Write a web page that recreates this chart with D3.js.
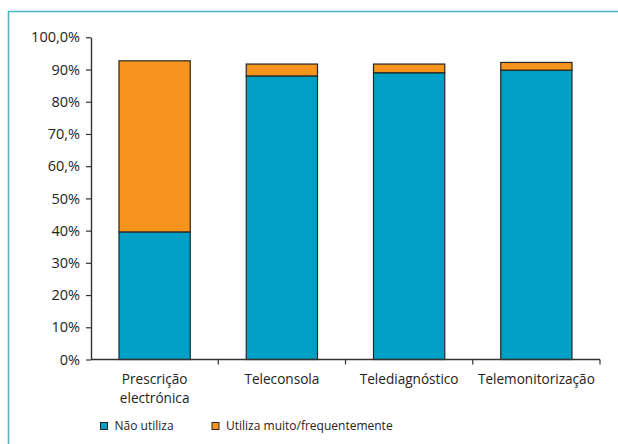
<!DOCTYPE html>
<html>
<head>
<meta charset="utf-8">
<script src="https://cdn.jsdelivr.net/npm/d3@7"></script>
<style>
  html, body { margin: 0; padding: 0; background: #fff; }
  svg { display: block; font-family: "Open Sans", "Noto Sans", sans-serif; }
</style>
</head>
<body>
<svg id="chart" width="618" height="444"></svg>
<script>
// Categories and stacked series (percent)
const categories = [["Prescrição", "electrónica"], ["Teleconsola"], ["Telediagnóstico"], ["Telemonitorização"]];
const naoUtiliza = [39.6, 88.0, 89.0, 89.8];
const utilizaMuito = [53.1, 3.7, 2.7, 2.4];
const seriesNames = ["Não utiliza", "Utiliza muito/frequentemente"];
const seriesColors = ["#00a0c6", "#f7941d"];
const yTickValues = [0, 10, 20, 30, 40, 50, 60, 70, 80, 90, 100];
const yTickLabels = ["0%", "10%", "20%", "30%", "40%", "50%", "60,%", "70,%", "80%", "90%", "100,0%"];

const svg = d3.select("#chart");
const textColor = "#232323";
const axisColor = "#333";

// Frame: top and left teal rule
svg.append("line").attr("x1", 8).attr("x2", 618).attr("y1", 11.5).attr("y2", 11.5)
  .attr("stroke", "#4fb3bf").attr("stroke-width", 1.6);
svg.append("line").attr("x1", 8.5).attr("x2", 8.5).attr("y1", 11).attr("y2", 444)
  .attr("stroke", "#4fb3bf").attr("stroke-width", 1.6);

const x = d3.scaleBand()
  .domain(d3.range(categories.length))
  .range([91, 600])
  .paddingInner(0.44)
  .paddingOuter(0.22);

const y = d3.scaleLinear().domain([0, 100]).range([359.5, 37.3]);

// Stack the two series
const rows = categories.map((c, i) => ({ i, a: naoUtiliza[i], b: utilizaMuito[i] }));
const stack = d3.stack().keys(["a", "b"])(rows);

const g = svg.append("g");
stack.forEach((layer, k) => {
  g.selectAll(null).data(layer).enter().append("rect")
    .attr("x", d => x(d.data.i))
    .attr("width", x.bandwidth())
    .attr("y", d => y(d[1]))
    .attr("height", d => y(d[0]) - y(d[1]))
    .attr("fill", seriesColors[k])
    .attr("stroke", "#262626")
    .attr("stroke-width", 1.2);
});

// Y axis
const yAxis = svg.append("g").attr("transform", "translate(91,0)")
  .call(d3.axisLeft(y).tickValues(yTickValues)
    .tickFormat((d, i) => yTickLabels[i]).tickSize(5).tickPadding(6).tickSizeOuter(0));
yAxis.select(".domain").attr("stroke", axisColor).attr("stroke-width", 1.4);
yAxis.selectAll(".tick line").attr("stroke", axisColor).attr("stroke-width", 1.2);
yAxis.selectAll(".tick text").attr("fill", textColor).attr("font-size", 14.5)
  .attr("font-family", "'Open Sans', sans-serif");

// X axis baseline with ticks at category boundaries
const xAxisG = svg.append("g");
xAxisG.append("line").attr("x1", 91).attr("x2", 600).attr("y1", y(0)).attr("y2", y(0))
  .attr("stroke", axisColor).attr("stroke-width", 1.4);
const step = x.step();
const bounds = d3.range(1, categories.length + 1).map(i => x(i - 1) - x.paddingOuter() * step + step);
xAxisG.selectAll(null).data(bounds).enter().append("line")
  .attr("x1", d => d).attr("x2", d => d)
  .attr("y1", y(0)).attr("y2", y(0) + 5)
  .attr("stroke", axisColor).attr("stroke-width", 1.2);

// Category labels
categories.forEach((lines, i) => {
  const t = svg.append("text")
    .attr("x", x(i) + x.bandwidth() / 2)
    .attr("y", 384)
    .attr("text-anchor", "middle")
    .attr("fill", textColor)
    .attr("font-size", 13.6);
  lines.forEach((ln, j) => {
    t.append("tspan").attr("x", x(i) + x.bandwidth() / 2).attr("dy", j === 0 ? 0 : 18.5).text(ln);
  });
});

// Legend
const legendX = [100.5, 212];
seriesNames.forEach((name, k) => {
  const lg = svg.append("g").attr("transform", `translate(${legendX[k]},422.5)`);
  lg.append("rect").attr("width", 7).attr("height", 7)
    .attr("fill", seriesColors[k]).attr("stroke", "#262626").attr("stroke-width", 1);
  lg.append("text").attr("x", 14).attr("y", 7.8)
    .attr("fill", textColor).attr("font-size", 12).text(name);
});
</script>
</body>
</html>
